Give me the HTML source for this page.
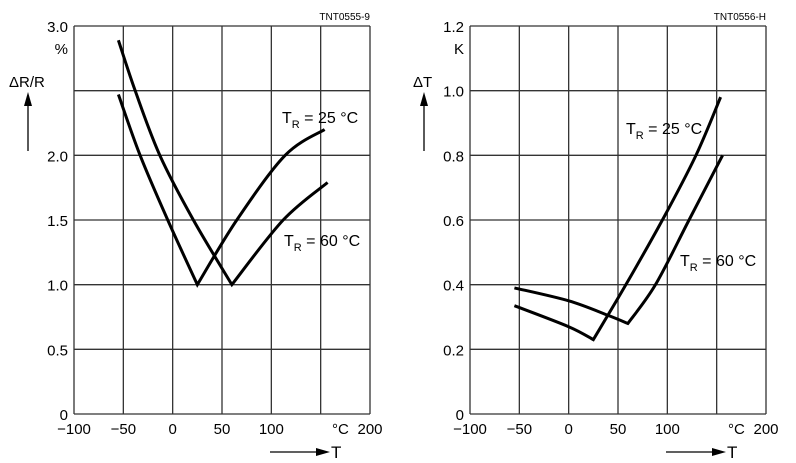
<!DOCTYPE html>
<html><head><meta charset="utf-8"><style>
body{margin:0;background:#fff}
svg{display:block;font-family:"Liberation Sans",Arial,sans-serif}
</style></head><body>
<svg id="s" width="796" height="463"></svg>
<script>
const xTicks=[-100,-50,0,50,100,150,200];
const xTickLabels=["\u2212100","\u221250","0","50","100","",""];
const leftYTicks=[0,0.5,1.0,1.5,2.0,2.5,3.0];
const leftYLabels=["0","0.5","1.0","1.5","2.0","","3.0"];
const rightYTicks=[0,0.2,0.4,0.6,0.8,1.0,1.2];
const rightYLabels=["0","0.2","0.4","0.6","0.8","1.0","1.2"];
const leftT25=[-55,-33,-5,25,65,114,154];
const leftV25=[2.47,2.0,1.5,1.0,1.5,2.0,2.2];
const leftT60=[-55,-38,-13,21,60,112,157];
const leftV60=[2.89,2.5,2.0,1.5,1.0,1.5,1.79];
const rightT25=[-55,0,25,58,95,129,154];
const rightV25=[0.335,0.27,0.23,0.4,0.6,0.8,0.98];
const rightT60=[-55,0,40,60,88,122,156];
const rightV60=[0.39,0.35,0.305,0.28,0.4,0.6,0.8];
const NS="http://www.w3.org/2000/svg";
const svg=document.getElementById('s');
function mk(t,a,p){const e=document.createElementNS(NS,t);for(const k in a)e.setAttribute(k,a[k]);(p||svg).appendChild(e);return e;}
function smooth(pts){
  let d='M'+pts[0][0]+' '+pts[0][1];
  for(let i=0;i<pts.length-1;i++){
    const p0=pts[Math.max(0,i-1)],p1=pts[i],p2=pts[i+1],p3=pts[Math.min(pts.length-1,i+2)];
    const c1=[p1[0]+(p2[0]-p0[0])/6,p1[1]+(p2[1]-p0[1])/6];
    const c2=[p2[0]-(p3[0]-p1[0])/6,p2[1]-(p3[1]-p1[1])/6];
    d+=` C${c1[0]} ${c1[1]} ${c2[0]} ${c2[1]} ${p2[0]} ${p2[1]}`;
  }
  return d;
}
function chart(ox,ymax,yT,yL,series,opts){
  const g=mk('g',{});
  
  
  const L=ox+74,R=ox+370,T=26,B=414;
  const sx=v=>L+(v+100)/300*(R-L);
  const sy=v=>B-v/ymax*(B-T);
  yT.forEach((v,i)=>{
    const l=mk('line',{x1:L,x2:R,y1:sy(v),y2:sy(v),stroke:'#333','stroke-width':1.3},g);
    
    
    if(yL[i]){const t=mk('text',{x:ox+68,y:sy(v)+6,'text-anchor':'end','font-size':15},g);t.textContent=yL[i];
    
    }
  });
  xTicks.forEach((v,i)=>{
    const l=mk('line',{x1:sx(v),x2:sx(v),y1:T,y2:B,stroke:'#333','stroke-width':1.3},g);
    
    
    if(xTickLabels[i]){const t=mk('text',{x:sx(v),y:434,'text-anchor':'middle','font-size':15},g);t.textContent=xTickLabels[i];
    
    }
  });
  let t=mk('text',{x:ox+332,y:434,'font-size':15},g);t.textContent='°C';
  t=mk('text',{x:sx(200),y:434,'text-anchor':'middle','font-size':15},g);t.textContent='200';
  t=mk('text',{x:ox+370,y:20,'text-anchor':'end','font-size':10},g);t.textContent=opts.code;
  
  
  t=mk('text',{x:ox+68,y:54,'text-anchor':'end','font-size':15},g);t.textContent=opts.unit;
  
  
  t=mk('text',{x:opts.ylx,y:87,'font-size':15},g);t.textContent=opts.ylabel;
  
  
  mk('line',{x1:ox+28,x2:ox+28,y1:151,y2:104,stroke:'#000','stroke-width':1.3},g);
  mk('path',{d:`M${ox+24} 106 L${ox+28} 92 L${ox+32} 106Z`,fill:'#000'},g);
  mk('line',{x1:ox+270,x2:ox+318,y1:452,y2:452,stroke:'#000','stroke-width':1.3},g);
  mk('path',{d:`M${ox+316} 448 L${ox+330} 452 L${ox+316} 456Z`,fill:'#000'},g);
  t=mk('text',{x:ox+331,y:458,'font-size':17},g);t.textContent='T';
  
  
  series.forEach(s=>{
    const pts=s.t.map((v,i)=>[sx(v),sy(s.v[i])]);
    let mi=0;s.v.forEach((v,i)=>{if(v<s.v[mi])mi=i;});
    const d=smooth(pts.slice(0,mi+1))+' '+smooth(pts.slice(mi)).replace(/^M[^C]*/,'');
    const p=mk('path',{d:d,fill:'none',stroke:'#000','stroke-width':3,'stroke-linejoin':'miter'},g);
    
    
  });
  opts.labels.forEach(lb=>{
    const tx=mk('text',{x:lb.x,y:lb.y,'font-size':16},g);
    tx.innerHTML='T<tspan font-size="11" dy="5">R</tspan><tspan dy="-5"> = '+lb.v+' °C</tspan>';
    
    
  });
}
chart(0,3.0,leftYTicks,leftYLabels,[{t:leftT25,v:leftV25,name:'curve-tr25'},{t:leftT60,v:leftV60,name:'curve-tr60'}],
 {name:'resistance-chart',code:'TNT0555-9',unit:'%',ylabel:'\u0394R/R',ylx:9,labels:[{x:282,y:123,v:'25'},{x:284,y:246,v:'60'}]});
chart(396,1.2,rightYTicks,rightYLabels,[{t:rightT25,v:rightV25,name:'curve-tr25'},{t:rightT60,v:rightV60,name:'curve-tr60'}],
 {name:'temperature-chart',code:'TNT0556-H',unit:'K',ylabel:'\u0394T',ylx:413,labels:[{x:626,y:134,v:'25'},{x:680,y:266,v:'60'}]});
</script>
</body></html>
